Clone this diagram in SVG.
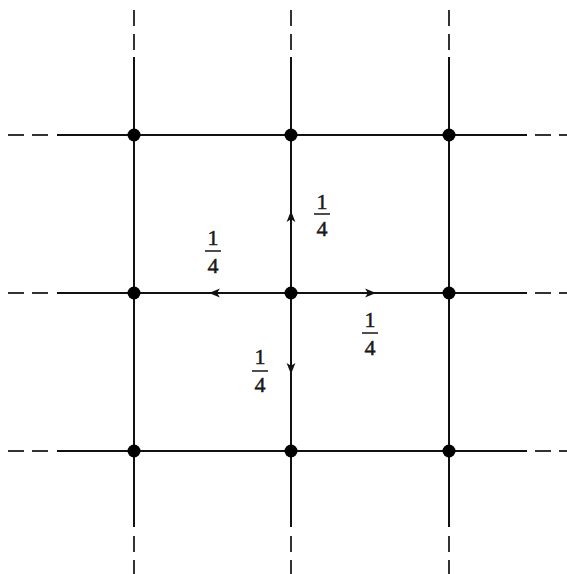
<svg xmlns="http://www.w3.org/2000/svg" width="567" height="574" viewBox="0 0 567 574">
<style>
.ln{stroke:#111;stroke-width:2;fill:none}
.dash{stroke:#333;stroke-width:2;fill:none;stroke-dasharray:16 8}
.dot{fill:#000}
.lbl{font-family:"Liberation Serif","DejaVu Serif",serif;font-size:22px;fill:#1a1a1a;stroke:#1a1a1a;stroke-width:0.5;text-anchor:middle}
.bar{stroke:#222;stroke-width:1.6}
.arr{stroke:none;fill:none}
</style>
<defs>
<marker id="ah" viewBox="0 0 10 10" refX="9" refY="5" markerWidth="11" markerHeight="11" markerUnits="userSpaceOnUse" orient="auto">
<path d="M0,1 L10,5 L0,9 L2.5,5 Z" fill="#111"/>
</marker>
</defs>
<rect width="567" height="574" fill="#fff"/>
<g id="connectors">
<line class="ln" x1="57" y1="135" x2="527" y2="135"/>
<line class="ln" x1="57" y1="293" x2="527" y2="293"/>
<line class="ln" x1="57" y1="451" x2="527" y2="451"/>
<line class="ln" x1="134" y1="57" x2="134" y2="527"/>
<line class="ln" x1="291" y1="57" x2="291" y2="527"/>
<line class="ln" x1="449" y1="57" x2="449" y2="527"/>
<path class="dash" d="M48,135 H8 M48,293 H8 M48,451 H8"/>
<path class="dash" d="M535,135 H575 M535,293 H575 M535,451 H575"/>
<path class="dash" d="M134,50 V10 M291,50 V10 M449,50 V10"/>
<path class="dash" d="M134,536 V576 M291,536 V576 M449,536 V576"/>
<path class="arr" d="M291,240 L291,212" marker-end="url(#ah)"/>
<path class="arr" d="M340,293 L375,293" marker-end="url(#ah)"/>
<path class="arr" d="M240,293 L210,293" marker-end="url(#ah)"/>
<path class="arr" d="M291,340 L291,373" marker-end="url(#ah)"/>
</g>
<g id="n00"><circle class="dot" cx="134" cy="135" r="6.5"/></g>
<g id="n01"><circle class="dot" cx="291" cy="135" r="6.5"/></g>
<g id="n02"><circle class="dot" cx="449" cy="135" r="6.5"/></g>
<g id="n10"><circle class="dot" cx="134" cy="293" r="6.5"/></g>
<g id="n11"><circle class="dot" cx="291" cy="293" r="6.5"/></g>
<g id="n12"><circle class="dot" cx="449" cy="293" r="6.5"/></g>
<g id="n20"><circle class="dot" cx="134" cy="451" r="6.5"/></g>
<g id="n21"><circle class="dot" cx="291" cy="451" r="6.5"/></g>
<g id="n22"><circle class="dot" cx="449" cy="451" r="6.5"/></g>
<g id="label-up">
<text class="lbl" x="322" y="209">1</text>
<line class="bar" x1="314" y1="214" x2="330" y2="214"/>
<text class="lbl" x="322" y="236">4</text>
</g>
<g id="label-left">
<text class="lbl" x="213" y="245">1</text>
<line class="bar" x1="205" y1="251" x2="221" y2="251"/>
<text class="lbl" x="213" y="273">4</text>
</g>
<g id="label-right">
<text class="lbl" x="370" y="327">1</text>
<line class="bar" x1="362" y1="333" x2="378" y2="333"/>
<text class="lbl" x="370" y="355">4</text>
</g>
<g id="label-down">
<text class="lbl" x="260" y="364">1</text>
<line class="bar" x1="252" y1="371" x2="268" y2="371"/>
<text class="lbl" x="260" y="392">4</text>
</g>
</svg>
